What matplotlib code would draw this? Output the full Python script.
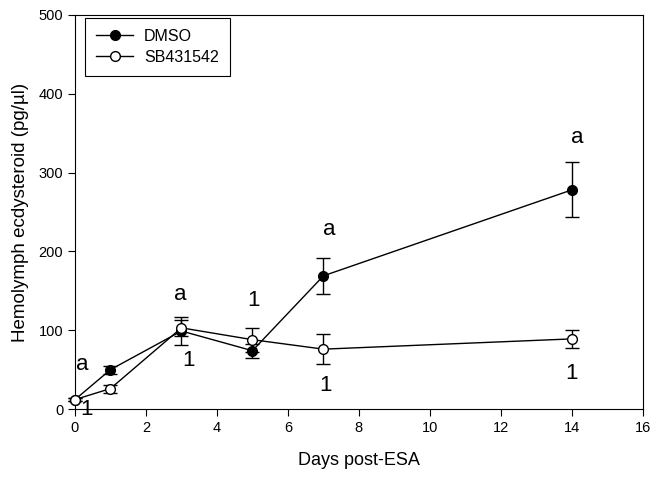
import numpy as np
import matplotlib
matplotlib.use('Agg')
import matplotlib.pyplot as plt

plt.rcParams['font.family'] = ['Liberation Sans', 'DejaVu Sans']

days = [0, 1, 3, 5, 7, 14]
dmso = [12, 50, 99, 74, 169, 278]
dmso_err = [2, 5, 18, 9, 23, 35]
sb = [12, 26, 103, 88, 76, 89]
sb_err = [2, 5, 10, 15, 19, 11]

# significance letters (x, y, text)
lab_x = [0.2, 0.33, 2.96, 3.2, 5.04, 7.15, 7.05, 14.15, 14.0]
lab_y = [56, -1, 145, 62, 138, 228, 30, 344, 45]
lab_t = ['a', '1', 'a', '1', '1', 'a', '1', 'a', '1']

fig = plt.figure(figsize=(6.52, 4.79), dpi=100)
ax = fig.add_axes([0.115, 0.146, 0.871, 0.823])

ax.errorbar(days, dmso, yerr=dmso_err, color='black', marker='o', ms=7,
            mfc='black', mec='black', lw=1, capsize=4.7, elinewidth=1,
            label='DMSO', zorder=3, clip_on=False)
ax.errorbar(days, sb, yerr=sb_err, color='black', marker='o', ms=7,
            mfc='white', mec='black', lw=1, capsize=4.7, elinewidth=1,
            label='SB431542', zorder=4, clip_on=False)

for x, y, t in zip(lab_x, lab_y, lab_t):
    ax.text(x, y, t, fontsize=16, ha='center', va='center')

ax.set_xlim(0, 16)
ax.set_ylim(0, 500)
ax.set_xticks(range(0, 17, 2))
ax.set_yticks(range(0, 501, 100))
ax.tick_params(direction='out', labelsize=10.5, length=5)
ax.set_xlabel('Days post-ESA', fontsize=13, labelpad=12)
ax.set_ylabel('Hemolymph ecdysteroid (pg/µl)', fontsize=13.5, labelpad=7)

handles, labels = ax.get_legend_handles_labels()
handles = [h[0] for h in handles]
leg = ax.legend(handles, labels, loc='upper left', fontsize=11.5,
                bbox_to_anchor=(10 / 568, 1 - 3 / 394), borderaxespad=0,
                fancybox=False, edgecolor='black', framealpha=1,
                handlelength=2.3, borderpad=0.7, labelspacing=0.35,
                handletextpad=0.7)
leg.get_frame().set_linewidth(0.8)

fig.savefig('out.png', dpi=100)
